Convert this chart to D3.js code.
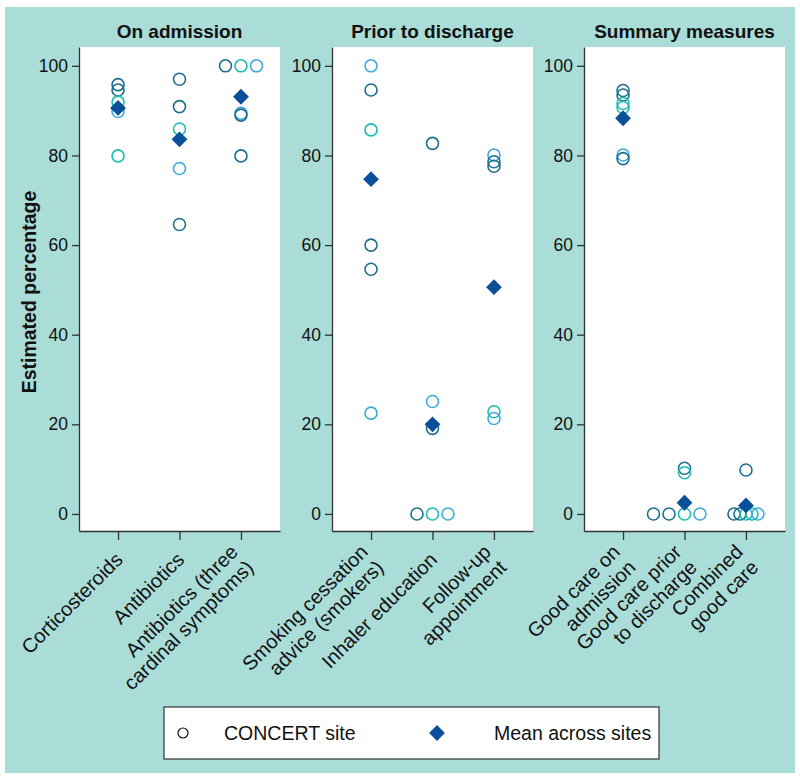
<!DOCTYPE html>
<html><head><meta charset="utf-8">
<script src="https://cdn.jsdelivr.net/npm/d3@7"></script>
<style>body{margin:0;background:#fff} text{font-family:"Liberation Sans",Arial,Helvetica,sans-serif;fill:#111}</style>
</head><body><svg id="c" width="800" height="781"></svg>
<script>
// ---------------- data ----------------
const panelTitles = ["On admission", "Prior to discharge", "Summary measures"];
const categories = [
  ["Corticosteroids"], ["Antibiotics"], ["Antibiotics (three", "cardinal symptoms)"],
  ["Smoking cessation", "advice (smokers)"], ["Inhaler education"], ["Follow-up", "appointment"],
  ["Good care on", "admission"], ["Good care prior", "to discharge"], ["Combined", "good care"]
];
const categoryPanel = [0, 0, 0, 1, 1, 1, 2, 2, 2];
const siteValues = [
  [95.8, 94.6, 91.9, 89.8, 79.9],
  [97.0, 90.9, 85.9, 77.1, 64.6],
  [100, 100, 100, 89.4, 89.0, 79.9],
  [100, 94.6, 85.7, 60.0, 54.6, 22.5],
  [82.7, 25.1, 19.1, 0, 0, 0],
  [80.1, 78.6, 77.6, 22.8, 21.3],
  [94.5, 93.5, 91.6, 90.7, 80.1, 79.3],
  [10.2, 9.2, 0, 0, 0, 0],
  [9.8, 0, 0, 0, 0, 0]
];
const siteGroups = [
  ["A", "A", "B", "C", "B"],
  ["A", "A", "B", "C", "A"],
  ["A", "B", "C", "C", "A", "A"],
  ["C", "A", "B", "A", "A", "C"],
  ["A", "C", "A", "A", "B", "C"],
  ["C", "A", "A", "B", "C"],
  ["A", "A", "B", "B", "C", "A"],
  ["A", "B", "A", "A", "B", "C"],
  ["A", "A", "A", "B", "B", "C"]
];
const meanValues = [90.6, 83.6, 93.1, 74.7, 20.0, 50.6, 88.3, 2.5, 1.9];
const yTicks = [0, 20, 40, 60, 80, 100];
const yTitle = "Estimated percentage";
const legendLabels = ["CONCERT site", "Mean across sites"];

// ---------------- layout ----------------
const svg = d3.select("#c");
const panelX = [79, 332, 584], panelW = 201, plotTop = 47, plotBottom = 531;
const groupColor = d3.scaleOrdinal().domain(["A", "B", "C"]).range(["#1e6f8e", "#1dbdb4", "#3da9dc"]);
const meanColor = "#0b4e9a";

svg.append("rect").attr("x", 5).attr("y", 7).attr("width", 790).attr("height", 766).attr("fill", "#aadcd8");

const y = d3.scaleLinear().domain([-3.8, 104.2]).range([plotBottom, plotTop]);
const diamond = d3.symbol().type(d3.symbolSquare).size(125);

panelTitles.forEach((title, p) => {
  const idx = categories.map((c, i) => i).filter(i => categoryPanel[i] === p);
  const x = d3.scalePoint().domain(idx).range([panelX[p], panelX[p] + panelW]).padding(0.635);
  const g = svg.append("g");
  g.append("rect").attr("x", panelX[p]).attr("y", plotTop).attr("width", panelW)
    .attr("height", plotBottom - plotTop).attr("fill", "#fff");
  g.append("text").attr("x", panelX[p] + panelW / 2).attr("y", 38).attr("text-anchor", "middle")
    .attr("font-size", 19).attr("font-weight", "bold").text(title);

  // y axis
  const ya = g.append("g").attr("transform", `translate(${panelX[p]},0)`)
    .call(d3.axisLeft(y).tickValues(yTicks).tickSize(7).tickSizeOuter(0).tickPadding(4));
  ya.selectAll("text").attr("font-size", 17.5).style("font-family", "'Liberation Sans',Arial,sans-serif").attr("fill", "#111");
  ya.selectAll("line,path").attr("stroke", "#333").attr("stroke-width", 1.3);

  // x axis
  const xa = g.append("g").attr("transform", `translate(0,${plotBottom})`)
    .call(d3.axisBottom(x).tickSize(9).tickSizeOuter(0).tickFormat(""));
  xa.selectAll("line,path").attr("stroke", "#333").attr("stroke-width", 1.3);

  // x labels
  idx.forEach(i => {
    const lines = categories[i];
    const t = g.append("text").attr("text-anchor", "end").attr("font-size", 20)
      .attr("transform", `translate(${x(i) + 1},556) rotate(-45)`);
    lines.forEach((ln, k) => {
      t.append("tspan").attr("x", 0).attr("y", (k - (lines.length - 1) / 2) * 22)
        .attr("dy", "0.35em").text(ln);
    });
  });

  // site points with dodge for tied values
  idx.forEach(i => {
    const vals = siteValues[i];
    const counts = d3.rollup(vals.map((v, k) => k), ks => ks, k => vals[k]);
    const pts = [];
    counts.forEach((ks, v) => {
      const n = ks.length, sp = n >= 5 ? 6 : 15.5;
      ks.forEach((k, j) => pts.push({v, grp: siteGroups[i][k], off: (j - Math.floor(n / 2)) * sp}));
    });
    g.selectAll(null).data(pts).join("circle")
      .attr("cx", d => x(i) + d.off).attr("cy", d => y(d.v)).attr("r", 6)
      .attr("fill", "none").attr("stroke", d => groupColor(d.grp)).attr("stroke-width", 1.6);
    g.append("path").attr("d", diamond)
      .attr("transform", `translate(${x(i)},${y(meanValues[i])}) rotate(45)`)
      .attr("fill", meanColor);
  });
});

// y title
svg.append("text").attr("transform", "translate(36,292) rotate(-90)").attr("text-anchor", "middle")
  .attr("font-size", 19.5).attr("font-weight", "bold").text(yTitle);

// legend
const lg = svg.append("g");
lg.append("rect").attr("x", 164).attr("y", 707).attr("width", 495).attr("height", 52)
  .attr("fill", "#fff").attr("stroke", "#333").attr("stroke-width", 1.2);
lg.append("circle").attr("cx", 183).attr("cy", 733).attr("r", 5).attr("fill", "none")
  .attr("stroke", "#111").attr("stroke-width", 1.2);
lg.append("text").attr("x", 224).attr("y", 740).attr("font-size", 19.5).text(legendLabels[0]);
lg.append("path").attr("d", diamond).attr("transform", "translate(437,733) rotate(45)").attr("fill", meanColor);
lg.append("text").attr("x", 494).attr("y", 740).attr("font-size", 19.5).text(legendLabels[1]);
</script></body></html>
